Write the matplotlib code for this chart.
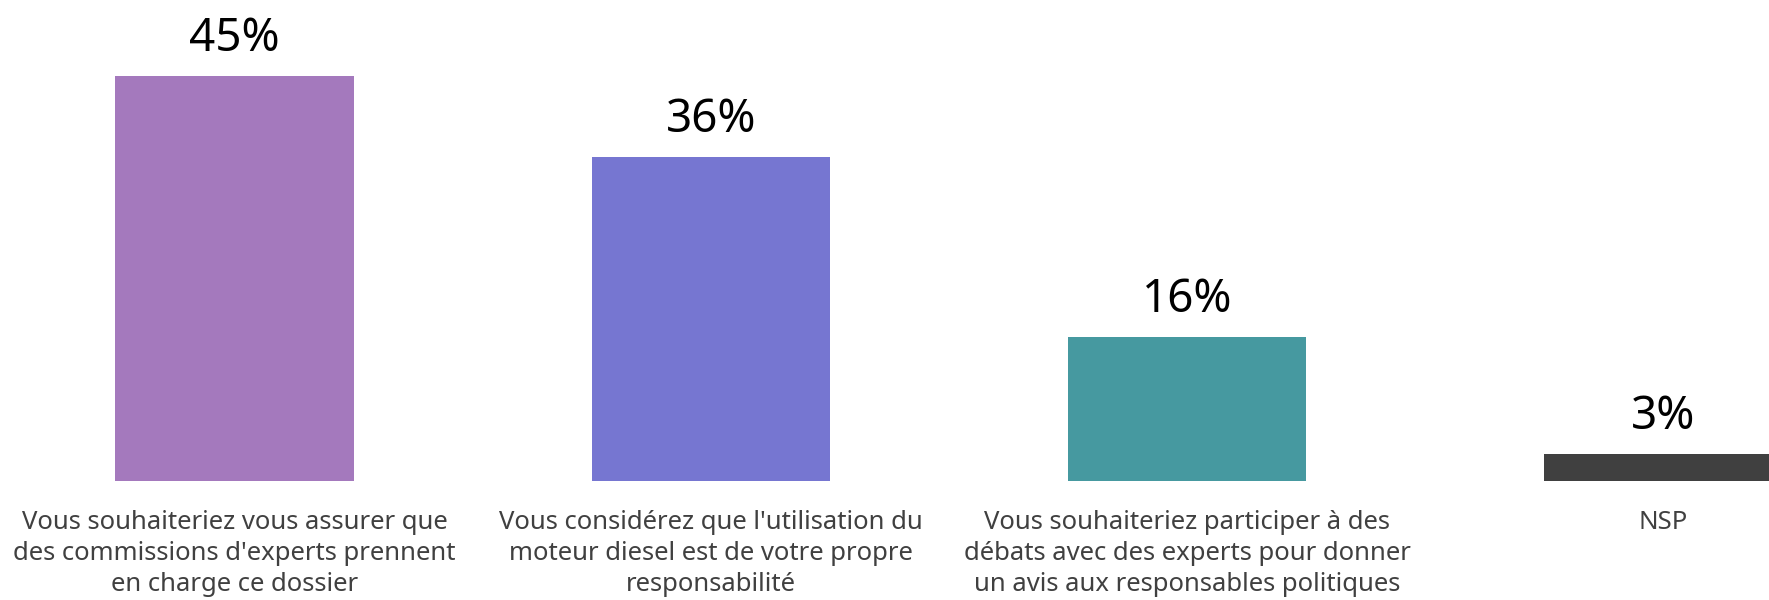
import matplotlib
matplotlib.use("Agg")
import matplotlib.pyplot as plt

categories = [
    "Vous souhaiteriez vous assurer que\ndes commissions d'experts prennent\nen charge ce dossier",
    "Vous considérez que l'utilisation du\nmoteur diesel est de votre propre\nresponsabilité",
    "Vous souhaiteriez participer à des\ndébats avec des experts pour donner\nun avis aux responsables politiques",
    "NSP",
]
values = [45, 36, 16, 3]
value_labels = ["45%", "36%", "16%", "3%"]
colors = ["#A479BD", "#7676D1", "#4699A0", "#404040"]

fig = plt.figure(figsize=(17.69, 6.0), dpi=100)
ax = fig.add_axes([0.0, 119 / 600, 1.0, 481 / 600])

x = list(range(len(values)))
ax.bar(x, values, width=0.5, color=colors)

ax.set_xlim(-0.4923, 3.2215)
ax.set_ylim(0, 481 / 9)

for xi, v, lab in zip(x, values, value_labels):
    ax.annotate(lab, (xi, v), xytext=(0, 18), textcoords="offset points",
                ha="center", va="baseline", fontsize=33, family="Noto Sans",
                color="black")

for xi, cat in zip(x, categories):
    ax.annotate(cat, (xi, 0), xytext=(0, -21), textcoords="offset points",
                ha="center", va="top", fontsize=18.5, family="Noto Sans",
                color="#404040", linespacing=1.3, annotation_clip=False)

ax.axis("off")
fig.savefig("out.png", dpi=100)
